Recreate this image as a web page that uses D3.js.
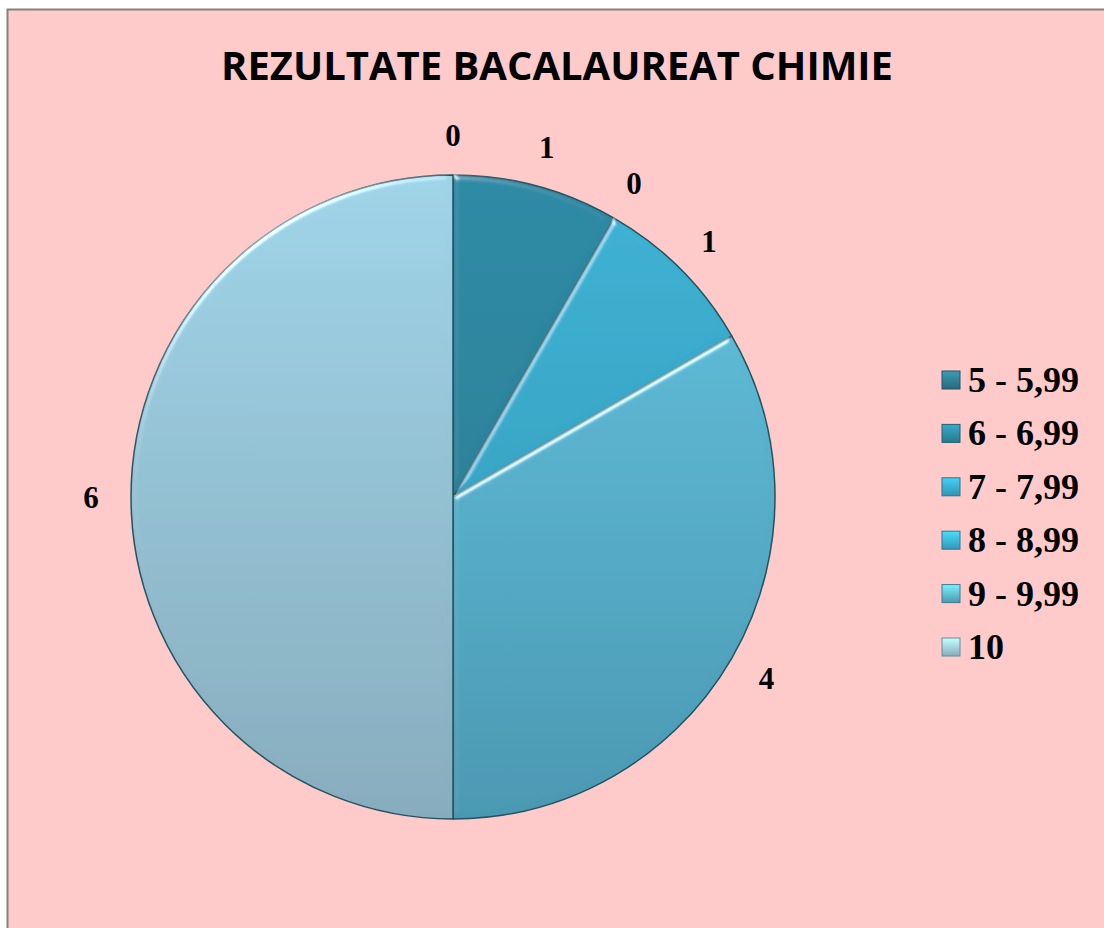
<!DOCTYPE html>
<html>
<head>
<meta charset="utf-8">
<script src="https://cdn.jsdelivr.net/npm/d3@7"></script>
<style>
  body { margin: 0; background: #ffffff; }
</style>
</head>
<body>
<div id="chart"></div>
<script>

// chart data
const categories = ['5 - 5,99', '6 - 6,99', '7 - 7,99', '8 - 8,99', '9 - 9,99', '10']
const values = [0, 1, 0, 1, 4, 6]
const title = 'REZULTATE BACALAUREAT CHIMIE'

// slice colours (top / bottom of the gradient) and legend swatches
const topColors = ['#2f7d91', '#2d8aa5', '#38a9c9', '#3cb2d4', '#62c3df', '#9fd4e8']
const bottomColors = ['#276a7c', '#28798f', '#2f93b0', '#3298b6', '#4a98b2', '#87acbd']

const W = 1104, H = 928
const cx = 453, cy = 497, radius = 322

const svg = d3.select('#chart')
    .append('svg')
    .attr('width', W)
    .attr('height', H)

const defs = svg.append('defs')

// background frame
svg.append('rect')
    .attr('x', 7.5)
    .attr('y', 9.5)
    .attr('width', W + 20)
    .attr('height', H + 20)
    .attr('fill', '#ffcaca')
    .attr('stroke', '#86817c')
    .attr('stroke-width', 2)

// title
svg.append('text')
    .attr('x', 557)
    .attr('y', 80)
    .attr('text-anchor', 'middle')
    .attr('font-family', 'Open Sans, sans-serif')
    .attr('font-weight', 700)
    .attr('font-size', 40)
    .attr('textLength', 672)
    .attr('lengthAdjust', 'spacingAndGlyphs')
    .attr('fill', '#000')
    .text(title)

// gradients, one per slice
categories.forEach((c, i) => {
    const g = defs.append('linearGradient')
        .attr('id', 'grad-' + i)
        .attr('gradientUnits', 'userSpaceOnUse')
        .attr('x1', 0).attr('x2', 0)
        .attr('y1', -radius).attr('y2', radius)
    g.append('stop').attr('offset', '0%').attr('stop-color', topColors[i])
    g.append('stop').attr('offset', '100%').attr('stop-color', bottomColors[i])

    const s = defs.append('linearGradient')
        .attr('id', 'sw-' + i)
        .attr('x1', 0).attr('x2', 0).attr('y1', 0).attr('y2', 1)
    s.append('stop').attr('offset', '0%').attr('stop-color', d3.color(topColors[i]).brighter(0.6))
    s.append('stop').attr('offset', '100%').attr('stop-color', bottomColors[i])
})

// soft bevel on the slice edges
const bevel = defs.append('filter')
    .attr('id', 'bevel')
    .attr('x', '-10%').attr('y', '-10%')
    .attr('width', '120%').attr('height', '120%')
bevel.append('feGaussianBlur')
    .attr('in', 'SourceAlpha')
    .attr('stdDeviation', 3)
    .attr('result', 'blur')
bevel.append('feSpecularLighting')
    .attr('in', 'blur')
    .attr('surfaceScale', 4)
    .attr('specularConstant', 0.7)
    .attr('specularExponent', 30)
    .attr('lighting-color', '#ffffff')
    .attr('result', 'spec')
    .append('feDistantLight')
    .attr('azimuth', 235)
    .attr('elevation', 25)
bevel.append('feComposite')
    .attr('in', 'spec')
    .attr('in2', 'SourceAlpha')
    .attr('operator', 'in')
    .attr('result', 'specIn')
bevel.append('feComposite')
    .attr('in', 'SourceGraphic')
    .attr('in2', 'specIn')
    .attr('operator', 'arithmetic')
    .attr('k1', 0).attr('k2', 1).attr('k3', 0.8).attr('k4', 0)

// pie
const pie = d3.pie().sort(null).value(d => d.value)
const arcs = pie(categories.map((c, i) => ({ cat: c, value: values[i], i: i })))

const arc = d3.arc().innerRadius(0).outerRadius(radius)
const labelArc = d3.arc().innerRadius(362).outerRadius(362)

const g = svg.append('g')
    .attr('transform', 'translate(' + cx + ',' + cy + ')')

g.append('g')
    .selectAll('path')
    .data(arcs.filter(d => d.value > 0))
    .enter()
    .append('path')
    .attr('d', arc)
    .attr('fill', d => 'url(#grad-' + d.data.i + ')')
    .attr('stroke', '#24535f')
    .attr('stroke-width', 1.5)
    .attr('stroke-linejoin', 'round')
    .attr('filter', 'url(#bevel)')

// value labels
g.append('g')
    .selectAll('text')
    .data(arcs)
    .enter()
    .append('text')
    .attr('transform', d => 'translate(' + labelArc.centroid(d) + ')')
    .attr('text-anchor', 'middle')
    .attr('dominant-baseline', 'central')
    .attr('font-family', 'Liberation Serif, Times New Roman, serif')
    .attr('font-weight', 700)
    .attr('font-size', 31)
    .attr('fill', '#000')
    .text(d => d.data.value)

// legend
const legendY = d3.scalePoint()
    .domain(categories)
    .range([380, 647])

const legend = svg.append('g').attr('class', 'legend')

legend.selectAll('rect')
    .data(categories)
    .enter()
    .append('rect')
    .attr('x', 942)
    .attr('y', d => legendY(d) - 9)
    .attr('width', 18)
    .attr('height', 18)
    .attr('fill', (d, i) => 'url(#sw-' + i + ')')
    .attr('stroke', (d, i) => d3.color(bottomColors[i]).darker(0.6))
    .attr('stroke-width', 1)

legend.selectAll('text')
    .data(categories)
    .enter()
    .append('text')
    .attr('x', 968)
    .attr('y', d => legendY(d))
    .attr('dominant-baseline', 'central')
    .attr('font-family', 'Liberation Serif, Times New Roman, serif')
    .attr('font-weight', 700)
    .attr('font-size', 36)
    .attr('fill', '#000')
    .text(d => d)

</script>
</body>
</html>
